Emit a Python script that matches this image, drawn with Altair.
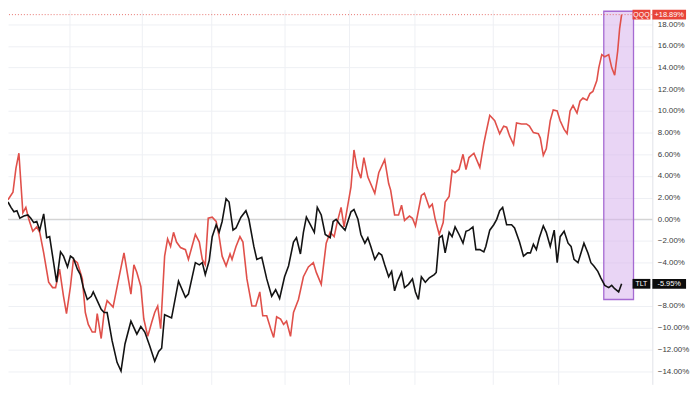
import altair as alt
import pandas as pd

# trading-day position (x) and cumulative % change (y)
qqq_t = [7,12,15,18,22,25,28,32,36,39,
         43,48,52,55,59,63,66,70,73,77,
         82,85,88,92,95,97,101,104,107,113,
         118,124,128,131,134,137,141,144,148,152,
         155,158,161,165,168,171,174,177,181,186,
         189,196,200,203,206,209,213,217,220,223,
         227,231,233,237,241,244,248,253,257,261,
         264,268,272,275,278,282,285,288,292,295,
         300,305,310,315,318,323,328,332,336,339,
         343,346,349,353,356,359,363,366,370,377,
         381,387,391,393,397,401,404,407,412,415,
         418,424,427,432,435,438,442,446,448,452,
         455,458,462,466,469,472,477,483,487,489,
         493,498,503,507,510,513,517,520,525,530,
         533,537,542,544,547,550,554,557,561,564,
         568,571,574,577,581,584,587,591,594,597,
         601,603,606,609,613,616,619,622,624,626]
qqq_v = [1.8,2.5,4.7,6.1,0.6,1.1,0.0,-1.1,-0.7,-1.2,
         -3.1,-5.8,-6.3,-6.3,-4.6,-7.1,-8.7,-6.2,-3.7,-4.0,
         -5.5,-8.6,-9.7,-10.4,-10.4,-8.7,-11.0,-8.6,-7.5,-8.1,
         -5.8,-3.1,-5.3,-6.9,-4.2,-4.9,-6.2,-9.2,-10.8,-9.5,
         -8.6,-8.0,-10.1,-3.4,-1.8,-2.5,-1.2,-2.1,-2.6,-2.8,
         -3.7,-1.4,-2.1,-3.7,-4.2,0.1,0.2,-0.2,-1.6,-3.4,
         -4.3,-3.2,-3.7,-2.5,-1.6,-2.1,-5.5,-8.0,-8.0,-6.7,
         -8.9,-8.9,-10.1,-10.9,-9.0,-9.2,-9.7,-9.4,-10.8,-8.6,
         -7.4,-5.3,-4.4,-4.0,-4.9,-6.0,-2.2,-1.2,-1.6,-0.3,
         1.1,-0.7,0.9,3.0,6.4,4.8,3.8,5.7,3.9,2.4,
         4.3,5.5,3.3,2.7,0.4,0.4,1.3,-0.1,0.3,0.1,
         -0.6,2.2,2.4,1.1,1.4,0.0,-1.4,-0.3,1.6,2.1,
         4.5,4.3,4.6,6.0,4.6,5.7,6.1,4.8,7.0,7.9,
         9.6,9.1,7.9,8.6,8.5,7.7,6.9,8.9,8.8,8.8,
         8.6,8.0,7.9,7.5,5.9,6.5,9.1,10.1,10.0,9.1,
         8.3,7.9,10.0,10.5,9.8,10.9,11.2,11.0,11.6,11.8,
         12.8,14.0,15.2,15.0,15.2,14.0,13.3,15.5,17.6,18.89]

tlt_t = [7,10,13,16,19,23,27,30,33,36,
         39,43,46,49,52,56,60,63,67,70,
         73,77,80,83,87,91,93,97,101,104,
         107,112,117,121,125,131,137,141,145,150,
         155,159,162,165,172,179,186,189,196,200,
         203,206,210,213,217,220,223,227,230,234,
         237,242,247,250,255,258,263,268,273,277,
         281,286,290,295,298,302,305,308,312,316,
         319,323,327,332,335,338,342,347,353,356,
         360,363,367,370,373,377,381,384,387,391,
         394,397,400,404,407,411,415,418,421,424,
         428,432,437,439,442,445,448,452,455,458,
         462,466,469,472,476,479,483,487,489,493,
         497,500,503,506,510,515,518,523,527,531,
         534,537,540,543,547,550,554,558,561,564,
         568,572,575,578,582,585,588,592,595,598,
         602,605,609,613,616,619,623,626]
tlt_v = [1.6,1.1,0.7,0.8,0.1,0.3,0.4,0.1,-0.3,-0.2,
         -1.0,0.5,-1.7,-1.6,-3.4,-5.8,-3.0,-3.4,-4.4,-3.4,
         -3.6,-4.6,-5.1,-6.3,-7.4,-7.1,-6.7,-7.5,-8.3,-8.6,
         -8.6,-11.2,-13.2,-14.0,-11.5,-9.4,-10.6,-9.9,-10.4,-11.7,
         -13.1,-12.2,-11.9,-8.8,-9.1,-5.7,-7.2,-6.9,-4.0,-4.2,
         -4.0,-5.1,-3.8,-1.6,-0.5,-1.2,-0.2,1.9,1.6,-1.0,
         -0.8,0.2,0.8,0.0,-2.5,-3.7,-3.5,-5.5,-7.1,-6.5,
         -7.3,-5.3,-4.3,-2.1,-1.7,-3.2,-1.2,0.2,-0.5,-1.2,
         1.1,0.4,-1.4,-1.7,-0.2,0.0,-0.5,-1.0,0.7,0.9,
         0.0,-1.4,-2.2,-1.7,-2.5,-3.7,-3.1,-3.3,-4.2,-5.3,
         -4.8,-6.6,-5.7,-4.9,-6.3,-6.0,-5.5,-6.7,-7.4,-5.3,
         -5.8,-5.4,-5.1,-4.9,-1.7,-1.5,-3.1,-1.2,-1.6,-0.7,
         -1.4,-2.2,-1.1,-1.0,-0.7,-2.8,-2.8,-3.0,-2.5,-1.0,
         -0.5,0.0,0.8,1.1,-0.5,-0.5,-0.8,-2.1,-3.4,-3.1,
         -3.1,-2.3,-2.8,-1.7,-0.6,-1.2,-2.5,-1.0,-4.0,-1.6,
         -1.1,-2.2,-2.5,-3.7,-4.0,-3.1,-2.2,-3.1,-4.0,-4.3,
         -4.8,-5.4,-6.1,-6.3,-6.1,-6.4,-6.7,-5.95]

month_lines = [69, 142, 212, 286, 351, 417, 496, 562]
y_ticks = [-14, -12, -10, -8, -6, -4, -2, 0, 2, 4, 6, 8, 10, 12, 14, 16, 18]
tickers = ["QQQ", "TLT"]
last_values = [18.89, -5.95]
last_labels = ["+18.89%", "-5.95%"]
colors = ["#e0504a", "#131313"]
box_colors = ["#e8443a", "#0c0c0c"]
hl_start, hl_end, hl_low, hl_high = 608, 638, -7.4, 19.2

df = pd.concat([
    pd.DataFrame({"t": qqq_t, "v": qqq_v, "s": "QQQ"}),
    pd.DataFrame({"t": tlt_t, "v": tlt_v, "s": "TLT"}),
])
lab = pd.DataFrame({"name": tickers, "v": last_values, "txt": last_labels})

xs = alt.Scale(domain=[7, 657], nice=False, zero=False)
ys = alt.Scale(domain=[-15.23, 19.35], nice=False, zero=False)

x_axis = alt.Axis(values=month_lines, labels=False, ticks=False, domain=False,
                  grid=True, gridColor="#eef0f4", title=None)
# the -6.00% label sits behind the TLT price tag in the original
y_axis = alt.Axis(orient="right", values=y_ticks, title=None, ticks=False,
                  grid=True, gridColor="#eef0f4", domainColor="#e0e2e8",
                  labelExpr="datum.value == -6 ? '' : format(datum.value, '.2f') + '%'",
                  labelFontSize=8, labelColor="#3a3a3a", labelPadding=5,
                  labelOverlap=False, labelBound=False, labelSeparation=0,
                  labelFont="Liberation Sans")

lines = alt.Chart(df).mark_line(strokeWidth=1.6).encode(
    x=alt.X("t:Q", scale=xs, axis=x_axis),
    y=alt.Y("v:Q", scale=ys, axis=y_axis),
    color=alt.Color("s:N", scale=alt.Scale(domain=tickers, range=colors), legend=None),
)

zero = alt.Chart(pd.DataFrame({"v": [0]})).mark_rule(color="#c9c9c9", strokeWidth=1).encode(
    y=alt.Y("v:Q", scale=ys, axis=None)
)

highlight = alt.Chart(pd.DataFrame({"t0": [hl_start], "t1": [hl_end],
                                    "v0": [hl_low], "v1": [hl_high]})).mark_rect(
    fill="#d7b3ec", fillOpacity=0.55, stroke="#a56ad2", strokeWidth=1.3
).encode(
    x=alt.X("t0:Q", scale=xs, axis=None), x2="t1:Q",
    y=alt.Y("v0:Q", scale=ys, axis=None), y2="v1:Q",
)

last_line = alt.Chart(lab[lab.name == "QQQ"]).mark_rule(
    color="#e0504a", strokeDash=[1, 2], strokeWidth=1, opacity=0.8
).encode(y=alt.Y("v:Q", scale=ys, axis=None))

box_base = alt.Chart(lab).transform_calculate(top="datum.v + 0.45", bot="datum.v - 0.45")
name_box = box_base.mark_rect().encode(
    x=alt.value(630), x2=alt.value(648),
    y=alt.Y("top:Q", scale=ys, axis=None), y2="bot:Q",
    fill=alt.Fill("name:N", scale=alt.Scale(domain=tickers, range=box_colors), legend=None),
)
val_box = box_base.mark_rect().encode(
    x=alt.value(650), x2=alt.value(684),
    y=alt.Y("top:Q", scale=ys, axis=None), y2="bot:Q",
    fill=alt.Fill("name:N", scale=alt.Scale(domain=tickers, range=box_colors), legend=None),
)
name_txt = alt.Chart(lab).mark_text(color="white", fontSize=7, font="Liberation Sans",
                                    baseline="middle", align="center").encode(
    x=alt.value(639), y=alt.Y("v:Q", scale=ys, axis=None), text="name:N")
val_txt = alt.Chart(lab).mark_text(color="white", fontSize=7.5, font="Liberation Sans",
                                   baseline="middle", align="center").encode(
    x=alt.value(667), y=alt.Y("v:Q", scale=ys, axis=None), text="txt:N")

chart = alt.layer(
    zero, highlight, last_line, lines, name_box, val_box, name_txt, val_txt
).resolve_scale(color="independent", fill="independent").resolve_axis(
    x="independent", y="independent"
).properties(
    width=650, height=378,
    autosize=alt.AutoSizeParams(type="none"),
    padding={"left": 0, "top": 0, "right": 40, "bottom": 0},
).configure_view(stroke=None)

chart.save("out.html", embed_options={"renderer": "svg", "actions": False})
